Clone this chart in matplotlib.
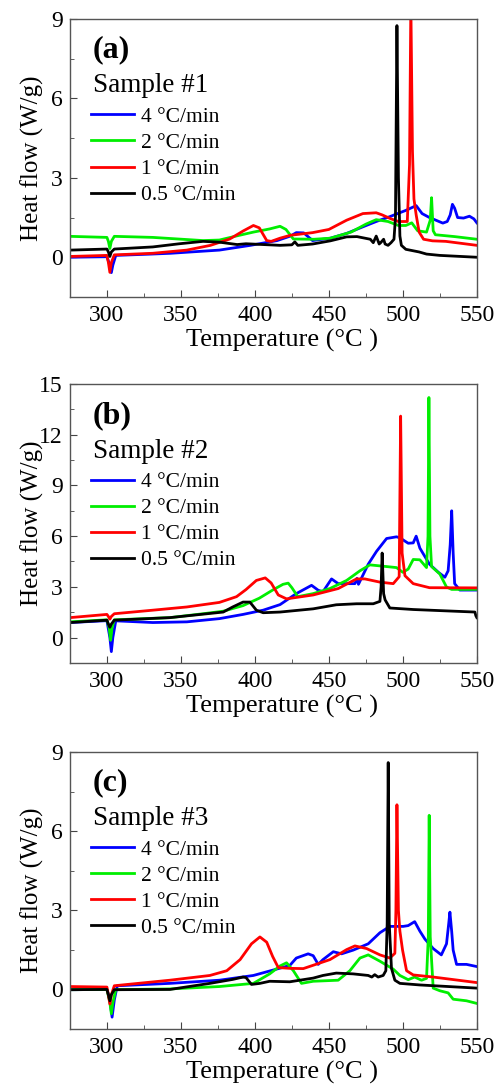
import matplotlib
matplotlib.use("Agg")
import matplotlib.pyplot as plt

plt.rcParams['font.family'] = ['Liberation Serif', 'DejaVu Serif']

rates = ['4 °C/min', '2 °C/min', '1 °C/min', '0.5 °C/min']
colors = ['#0000ff', '#00ee00', '#ff0000', '#000000']

# ---------------- sample #1 ----------------
a_blue_t = [275, 300, 302, 303, 304, 306, 330, 343, 376, 397, 415, 424, 428, 433, 439, 451, 462, 473, 482, 491, 502, 509, 513, 518, 527, 530, 532, 533.5, 535, 537, 541, 545, 548, 550]
a_blue_f = [0.0, 0.02, -0.3, -0.58, -0.3, 0.07, 0.12, 0.15, 0.27, 0.45, 0.63, 0.8, 0.93, 0.92, 0.63, 0.72, 0.9, 1.15, 1.35, 1.53, 1.77, 1.95, 1.65, 1.5, 1.29, 1.35, 1.6, 2.0, 1.85, 1.5, 1.48, 1.55, 1.45, 1.3]

a_green_t = [275, 300, 301, 302, 303, 305, 331, 365, 376, 388, 399, 410, 417, 421, 426, 440, 451, 465, 475, 482, 490, 497, 502, 506, 510, 516, 518.5, 519.4, 520.5, 522, 535, 550]
a_green_f = [0.79, 0.75, 0.6, 0.33, 0.6, 0.79, 0.75, 0.63, 0.65, 0.81, 0.95, 1.07, 1.17, 1.05, 0.69, 0.68, 0.72, 0.95, 1.25, 1.42, 1.35, 1.2, 1.2, 1.3, 1.0, 0.95, 1.4, 2.25, 1.0, 0.85, 0.78, 0.68]

a_red_t = [275, 300, 301, 302, 303, 305, 331, 354, 370, 383, 392, 399, 403, 408, 411, 417, 424, 439, 450, 462, 473, 482, 486, 492, 497, 503, 504.5, 505.4, 506.5, 507.5, 509, 511, 514, 520, 529, 550]
a_red_f = [0.03, 0.07, -0.2, -0.57, -0.2, 0.09, 0.15, 0.27, 0.45, 0.69, 0.99, 1.2, 1.11, 0.63, 0.6, 0.72, 0.83, 0.93, 1.05, 1.4, 1.65, 1.68, 1.6, 1.45, 1.35, 1.35, 3.5, 9.6, 4.0, 2.2, 1.6, 0.95, 0.68, 0.62, 0.6, 0.45]

a_black_t = [275, 300, 301, 302, 303, 305, 331, 349, 365, 376, 388, 394, 417, 425, 427, 429, 439, 451, 462, 469, 478, 480, 482, 484, 485, 487, 488, 490, 492, 494, 495, 496, 497, 498, 499, 502, 511, 516, 525, 550]
a_black_f = [0.27, 0.31, 0.2, 0.03, 0.2, 0.31, 0.39, 0.51, 0.6, 0.57, 0.48, 0.51, 0.45, 0.47, 0.58, 0.45, 0.5, 0.62, 0.77, 0.78, 0.68, 0.55, 0.8, 0.5, 0.55, 0.68, 0.5, 0.45, 0.55, 0.68, 1.5, 8.75, 3.0, 0.8, 0.45, 0.3, 0.2, 0.12, 0.07, 0.0]

# ---------------- sample #2 ----------------
b_blue_t = [275, 300, 302, 303, 304, 306, 331, 354, 376, 392, 405.6, 417, 428, 438.3, 442.8, 446, 451.8, 456.3, 467.6, 469, 470, 476.6, 482.2, 489, 495.7, 498, 503.6, 507, 509, 511.5, 518, 524, 528.4, 530.6, 532, 533, 534, 535, 538.5, 550]
b_blue_f = [0.89, 1.0, 0.0, -0.83, 0.0, 0.99, 0.89, 0.93, 1.12, 1.37, 1.62, 1.95, 2.6, 3.09, 2.8, 2.71, 3.47, 3.19, 3.19, 3.5, 3.15, 4.34, 5.1, 5.86, 5.96, 5.9, 5.58, 5.6, 6.0, 5.29, 4.34, 3.86, 3.57, 3.95, 5.5, 7.5, 5.0, 3.19, 2.81, 2.81]

b_green_t = [275, 300, 301.5, 302.5, 303.5, 305, 342.6, 365, 378.6, 392, 403, 412, 419, 422.5, 425, 429, 439.4, 450.7, 462, 471, 477.7, 484.5, 495.7, 500, 503.6, 507, 511.5, 516, 517, 517.6, 518.3, 519.4, 525, 529.5, 533, 550]
b_green_f = [0.93, 1.05, 0.6, -0.16, 0.6, 1.05, 1.18, 1.41, 1.56, 1.89, 2.33, 2.81, 3.15, 3.22, 2.95, 2.42, 2.6, 2.9, 3.38, 3.95, 4.3, 4.24, 4.14, 3.86, 4.05, 4.62, 4.6, 4.14, 6.0, 14.2, 6.0, 4.2, 3.76, 2.99, 2.85, 2.85]

b_red_t = [275, 300, 301, 302, 303, 305, 331, 354, 376, 387.6, 394, 401, 407, 411, 415.8, 421.4, 439.4, 456.3, 468.7, 474.3, 484.5, 493.5, 497.5, 498.5, 499.5, 501.4, 507, 518, 550]
b_red_f = [1.18, 1.37, 1.25, 1.09, 1.25, 1.41, 1.62, 1.81, 2.08, 2.42, 2.84, 3.38, 3.53, 3.23, 2.52, 2.29, 2.52, 2.9, 3.47, 3.47, 3.28, 3.19, 3.6, 13.1, 5.0, 3.66, 3.19, 2.95, 2.94]

b_black_t = [275, 300, 301, 302, 303, 305, 342.6, 378.6, 385, 392, 396.6, 401, 405.6, 417, 439.4, 455, 468.7, 480, 484.5, 485.3, 486, 487, 488, 491.2, 507, 548.7, 549.3, 550]
b_black_f = [0.89, 1.03, 0.8, 0.61, 0.8, 1.03, 1.18, 1.51, 1.81, 2.1, 2.1, 1.62, 1.47, 1.51, 1.7, 1.94, 2.0, 2.0, 2.14, 3.0, 5.0, 2.6, 2.23, 1.75, 1.66, 1.51, 1.3, 1.18]

# ---------------- sample #3 ----------------
c_blue_t = [275, 300, 302, 303.5, 305, 307, 342.6, 376, 399, 414.6, 423.6, 428, 436, 439.4, 442.8, 446, 453, 458.6, 466.4, 476.6, 484.5, 491.2, 500.2, 503.6, 508, 511.5, 514.9, 520.5, 526, 529.5, 531, 531.8, 533, 534, 536.3, 543, 549.8]
c_blue_f = [-0.01, 0.0, -0.4, -1.05, -0.4, 0.14, 0.23, 0.35, 0.53, 0.77, 0.91, 1.19, 1.35, 1.28, 0.95, 1.13, 1.43, 1.35, 1.49, 1.73, 2.15, 2.39, 2.39, 2.42, 2.57, 2.21, 1.91, 1.55, 1.31, 1.73, 2.5, 2.93, 2.2, 1.49, 0.95, 0.95, 0.87]

c_green_t = [275, 300, 302, 303, 304, 306, 342.6, 376, 399, 410, 417, 421.4, 426, 431.5, 439.4, 456.3, 464.2, 471, 476.6, 484.5, 493.5, 498, 503.6, 508, 512.6, 516, 517.2, 517.8, 518.5, 520.5, 525, 530.6, 534, 543, 550]
c_green_f = [-0.01, 0.0, -0.5, -0.92, -0.5, -0.01, 0.02, 0.11, 0.23, 0.59, 0.89, 1.01, 0.71, 0.23, 0.31, 0.35, 0.71, 1.19, 1.31, 1.07, 0.77, 0.53, 0.37, 0.47, 0.35, 0.42, 2.0, 6.6, 2.0, 0.05, -0.05, -0.13, -0.37, -0.43, -0.53]

c_red_t = [275, 300, 301, 302, 303, 305, 342.6, 369.6, 381, 390, 397.7, 403.4, 408, 412, 415.8, 423.6, 432.7, 450.7, 462, 467.6, 475.5, 484.5, 491.2, 494.6, 495.3, 496, 497, 498, 499.8, 502.5, 507, 520.5, 550]
c_red_f = [0.11, 0.09, -0.2, -0.55, -0.2, 0.14, 0.35, 0.53, 0.71, 1.13, 1.73, 1.99, 1.79, 1.25, 0.83, 0.8, 0.79, 1.13, 1.51, 1.65, 1.55, 1.31, 1.19, 1.37, 3.0, 7.0, 3.0, 2.21, 1.49, 0.71, 0.55, 0.47, 0.26]

c_black_t = [275, 300, 301, 302, 303, 305, 342.6, 369.6, 385, 392, 394, 397.7, 403.4, 410, 423.6, 439.4, 446, 455, 466.4, 476.6, 479, 481, 483.3, 486.7, 488.5, 489.4, 490.1, 490.8, 492.3, 494.6, 498, 511.5, 550]
c_black_f = [-0.01, 0.0, -0.2, -0.43, -0.2, -0.01, 0.0, 0.23, 0.38, 0.47, 0.45, 0.19, 0.23, 0.31, 0.29, 0.43, 0.53, 0.62, 0.59, 0.53, 0.47, 0.56, 0.47, 0.53, 0.71, 2.5, 8.6, 2.5, 0.8, 0.35, 0.23, 0.17, 0.05]

panels = [
    ('(a)', 'Sample #1', (-1, 9), [0, 3, 6, 9],
     [(a_blue_t, a_blue_f), (a_green_t, a_green_f), (a_red_t, a_red_f), (a_black_t, a_black_f)]),
    ('(b)', 'Sample #2', (-1, 15), [0, 3, 6, 9, 12, 15],
     [(b_blue_t, b_blue_f), (b_green_t, b_green_f), (b_red_t, b_red_f), (b_black_t, b_black_f)]),
    ('(c)', 'Sample #3', (-1, 9), [0, 3, 6, 9],
     [(c_blue_t, c_blue_f), (c_green_t, c_green_f), (c_red_t, c_red_f), (c_black_t, c_black_f)]),
]

boxes = [(0.139, 0.7263, 0.809, 0.2562),
         (0.139, 0.3890, 0.809, 0.2571),
         (0.139, 0.0516, 0.809, 0.2553)]

fig = plt.figure(figsize=(5.03, 10.85), dpi=100)

for (tag, sample, ylim, yticks, series), box in zip(panels, boxes):
    ax = fig.add_axes(box)
    for (t, f), c, lab in zip(series, colors, rates):
        ax.plot(t, f, color=c, lw=2.0, label=lab)
    ax.set_xlim(275, 550)
    ax.set_ylim(*ylim)
    ax.set_xticks([300, 350, 400, 450, 500, 550])
    ax.set_xticks([325, 375, 425, 475, 525], minor=True)
    ax.set_yticks(yticks)
    ax.set_yticks([v + 1.5 for v in [-3] + yticks[:-1]], minor=True)
    ax.tick_params(which='both', direction='in', labelsize=17, color='#444444')
    ax.tick_params(which='major', length=5)
    ax.tick_params(which='minor', length=3)
    ax.tick_params(axis='x', pad=6)
    ax.tick_params(axis='y', pad=5)
    for s in ax.spines.values():
        s.set_color('#555555')
        s.set_linewidth(1.0)
    ax.set_xlabel('Temperature (°C )', fontsize=19)
    ax.xaxis.set_label_coords(0.52, -0.115)
    ax.set_ylabel('Heat flow (W/g)', fontsize=18)
    ax.yaxis.set_label_coords(-0.064, 0.5)
    ax.text(0.056, 0.888, tag, transform=ax.transAxes, fontsize=23,
            fontweight='bold', va='center', ha='left')
    ax.text(0.056, 0.759, sample, transform=ax.transAxes, fontsize=19.5,
            va='center', ha='left')
    ax.legend(loc='upper left', bbox_to_anchor=(0.052, 0.684), frameon=False,
              fontsize=15.5, handlelength=2.0, handletextpad=0.3,
              labelspacing=0.28, borderpad=0, borderaxespad=0)

fig.savefig('out.png', dpi=100)
